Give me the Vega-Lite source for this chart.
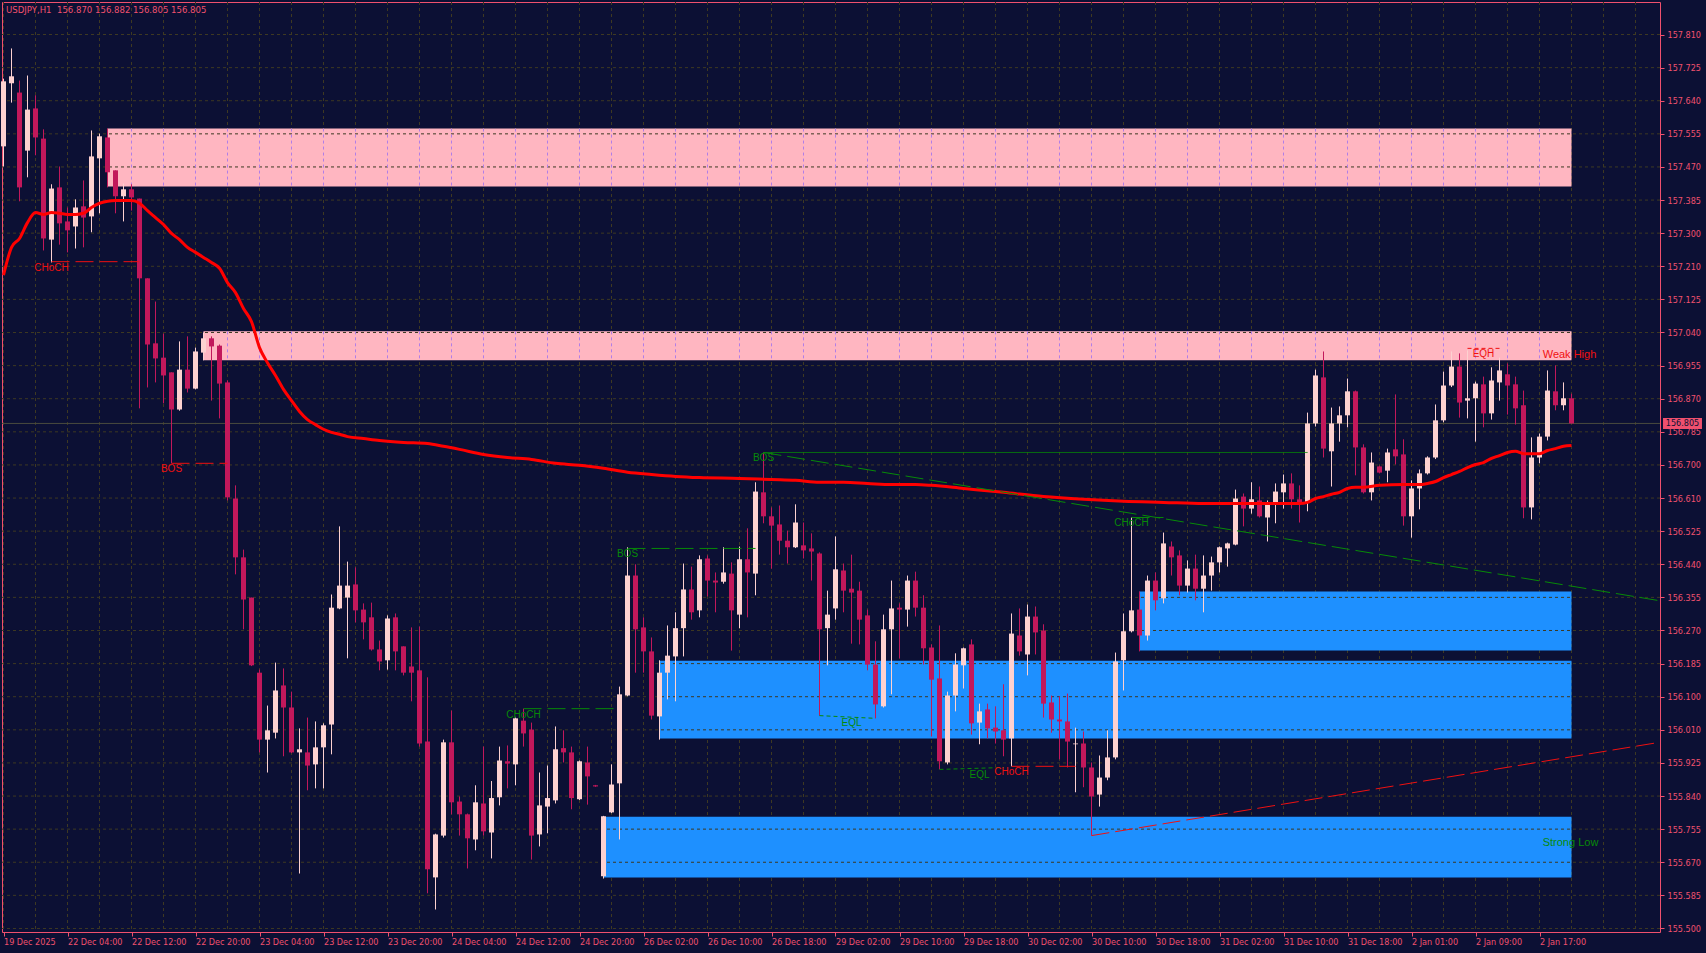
{
"$schema": "https://vega.github.io/schema/vega-lite/v6.json",
"width": 1658, "height": 930,
"autosize": {"type": "none"},
"padding": {"left": 2, "top": 2, "right": 46, "bottom": 21},
"background": "#0c1034",
"config": {"view": {"stroke": "#f0506e", "strokeWidth": 1, "fill": "#0c1034"}, "scale": {"continuousPadding": 0}},
"title": {"text": "USDJPY,H1\u00a0\u00a0156.870 156.882 156.805 156.805", "anchor": "start", "frame": "group", "orient": "top", "offset": -13, "dx": 4, "font": "Liberation Sans Narrow, DejaVu Sans Condensed, Liberation Sans", "fontSize": 9.5, "fontWeight": "normal", "color": "#f0506e"},
"resolve": {"scale": {"color": "independent", "strokeDash": "independent"}, "axis": {"x": "independent", "y": "independent"}},
"datasets": {
"gx": [{"i":0},{"i":4},{"i":8},{"i":12},{"i":16},{"i":20},{"i":24},{"i":28},{"i":32},{"i":36},{"i":40},{"i":44},{"i":48},{"i":52},{"i":56},{"i":60},{"i":64},{"i":68},{"i":72},{"i":76},{"i":80},{"i":84},{"i":88},{"i":92},{"i":96},{"i":100},{"i":104},{"i":108},{"i":112},{"i":116},{"i":120},{"i":124},{"i":128},{"i":132},{"i":136},{"i":140},{"i":144},{"i":148},{"i":152},{"i":156},{"i":160},{"i":164},{"i":168},{"i":172},{"i":176},{"i":180},{"i":184},{"i":188},{"i":192},{"i":196},{"i":200},{"i":204}],
"gy": [{"v":157.8100},{"v":157.7244},{"v":157.6389},{"v":157.5533},{"v":157.4678},{"v":157.3822},{"v":157.2967},{"v":157.2111},{"v":157.1256},{"v":157.0400},{"v":156.9544},{"v":156.8689},{"v":156.7833},{"v":156.6978},{"v":156.6122},{"v":156.5267},{"v":156.4411},{"v":156.3556},{"v":156.2700},{"v":156.1844},{"v":156.0989},{"v":156.0133},{"v":155.9278},{"v":155.8422},{"v":155.7567},{"v":155.6711},{"v":155.5856},{"v":155.5000}],
"zones": [
{"x1":13,"x2":196,"top":157.567,"bot":157.417,"zone":"supply"},
{"x1":25,"x2":196,"top":157.043,"bot":156.968,"zone":"supply"},
{"x1":142,"x2":196,"top":156.371,"bot":156.218,"zone":"demand"},
{"x1":82,"x2":196,"top":156.192,"bot":155.991,"zone":"demand"},
{"x1":75,"x2":196,"top":155.789,"bot":155.632,"zone":"demand"}],
"last": [{"p":156.805,"t":"156.805"}],
"lines": [
{"x1":6,"x2":17,"p1":157.223,"p2":157.223,"kind":"bear","style":"dash"},
{"x1":21,"x2":28,"p1":156.702,"p2":156.702,"kind":"bear","style":"dash"},
{"x1":65,"x2":77,"p1":156.068,"p2":156.068,"kind":"bull","style":"dash"},
{"x1":78,"x2":94,"p1":156.482,"p2":156.482,"kind":"bull","style":"dash"},
{"x1":95,"x2":163,"p1":156.730,"p2":156.730,"kind":"bull","style":"solid"},
{"x1":102,"x2":109,"p1":156.050,"p2":156.043,"kind":"bull","style":"dot"},
{"x1":117,"x2":125,"p1":155.911,"p2":155.916,"kind":"bull","style":"dot"},
{"x1":126,"x2":134,"p1":155.919,"p2":155.919,"kind":"bear","style":"dash"},
{"x1":141,"x2":145,"p1":156.562,"p2":156.562,"kind":"bull","style":"dash"},
{"x1":183,"x2":187,"p1":156.999,"p2":156.999,"kind":"bear","style":"dot"},
{"x1":95,"x2":207,"p1":156.730,"p2":156.347,"kind":"bull","style":"dash"},
{"x1":136,"x2":207,"p1":155.740,"p2":155.981,"kind":"bear","style":"dash"}],
"labels": [
{"i":6,"p":157.223,"t":"CHoCH","kind":"bear"},
{"i":21,"p":156.702,"t":"BOS","kind":"bear"},
{"i":65,"p":156.068,"t":"CHoCH","kind":"bull"},
{"i":78,"p":156.482,"t":"BOS","kind":"bull"},
{"i":95,"p":156.730,"t":"BOS","kind":"bull"},
{"i":106,"p":156.046,"t":"EQL","kind":"bull"},
{"i":122,"p":155.913,"t":"EQL","kind":"bull"},
{"i":126,"p":155.919,"t":"CHoCH","kind":"bear"},
{"i":141,"p":156.562,"t":"CHoCH","kind":"bull"},
{"i":185,"p":156.999,"t":"EQH","kind":"bear"}],
"tags": [
{"i":192.4,"p":156.981,"t":"Weak High","kind":"bear"},
{"i":192.4,"p":155.720,"t":"Strong Low","kind":"bull"}],
"ma": [{"i":0,"v":157.188},{"i":1,"v":157.260},{"i":2,"v":157.283},{"i":3,"v":157.324},{"i":4,"v":157.350},{"i":5,"v":157.345},{"i":6,"v":157.350},{"i":7,"v":157.348},{"i":8,"v":157.345},{"i":9,"v":157.345},{"i":10,"v":157.348},{"i":11,"v":157.363},{"i":12,"v":157.374},{"i":13,"v":157.379},{"i":14,"v":157.381},{"i":15,"v":157.381},{"i":16,"v":157.381},{"i":17,"v":157.374},{"i":18,"v":157.355},{"i":19,"v":157.337},{"i":20,"v":157.319},{"i":21,"v":157.296},{"i":22,"v":157.280},{"i":23,"v":157.260},{"i":24,"v":157.247},{"i":25,"v":157.234},{"i":26,"v":157.221},{"i":27,"v":157.206},{"i":28,"v":157.169},{"i":29,"v":157.143},{"i":30,"v":157.102},{"i":31,"v":157.068},{"i":32,"v":157.001},{"i":33,"v":156.962},{"i":34,"v":156.929},{"i":35,"v":156.893},{"i":36,"v":156.864},{"i":37,"v":156.836},{"i":38,"v":156.815},{"i":39,"v":156.802},{"i":40,"v":156.790},{"i":41,"v":156.782},{"i":42,"v":156.777},{"i":43,"v":156.771},{"i":45,"v":156.766},{"i":47,"v":156.761},{"i":50,"v":156.756},{"i":53,"v":156.753},{"i":55,"v":156.746},{"i":57,"v":156.738},{"i":60,"v":156.725},{"i":63,"v":156.717},{"i":66,"v":156.712},{"i":69,"v":156.702},{"i":72,"v":156.697},{"i":75,"v":156.689},{"i":78,"v":156.679},{"i":81,"v":156.673},{"i":84,"v":156.668},{"i":87,"v":156.665},{"i":92,"v":156.663},{"i":96,"v":156.660},{"i":99,"v":156.658},{"i":102,"v":156.653},{"i":105,"v":156.653},{"i":108,"v":156.650},{"i":111,"v":156.647},{"i":114,"v":156.647},{"i":116,"v":156.645},{"i":120,"v":156.637},{"i":125,"v":156.627},{"i":130,"v":156.616},{"i":135,"v":156.609},{"i":140,"v":156.604},{"i":145,"v":156.601},{"i":150,"v":156.598},{"i":155,"v":156.598},{"i":160,"v":156.598},{"i":162,"v":156.598},{"i":163,"v":156.601},{"i":164,"v":156.611},{"i":165,"v":156.616},{"i":166,"v":156.622},{"i":167,"v":156.627},{"i":168,"v":156.637},{"i":169,"v":156.640},{"i":170,"v":156.640},{"i":172,"v":156.645},{"i":175,"v":156.647},{"i":177,"v":156.647},{"i":178,"v":156.650},{"i":179,"v":156.655},{"i":180,"v":156.665},{"i":181,"v":156.673},{"i":182,"v":156.681},{"i":183,"v":156.691},{"i":184,"v":156.699},{"i":185,"v":156.704},{"i":186,"v":156.715},{"i":187,"v":156.722},{"i":188,"v":156.730},{"i":189,"v":156.733},{"i":190,"v":156.727},{"i":191,"v":156.727},{"i":192,"v":156.727},{"i":193,"v":156.735},{"i":194,"v":156.740},{"i":195,"v":156.746},{"i":196,"v":156.748}],
"candles": [
{"i":0,"o":157.521,"h":157.696,"l":157.469,"c":157.689},
{"i":1,"o":157.684,"h":157.774,"l":157.634,"c":157.702},
{"i":2,"o":157.660,"h":157.691,"l":157.379,"c":157.415},
{"i":3,"o":157.510,"h":157.704,"l":157.441,"c":157.616},
{"i":4,"o":157.619,"h":157.653,"l":157.498,"c":157.544},
{"i":5,"o":157.541,"h":157.565,"l":157.252,"c":157.283},
{"i":6,"o":157.280,"h":157.423,"l":157.221,"c":157.412},
{"i":7,"o":157.415,"h":157.469,"l":157.267,"c":157.322},
{"i":8,"o":157.327,"h":157.363,"l":157.247,"c":157.304},
{"i":9,"o":157.314,"h":157.384,"l":157.257,"c":157.363},
{"i":10,"o":157.366,"h":157.433,"l":157.260,"c":157.337},
{"i":11,"o":157.340,"h":157.562,"l":157.299,"c":157.495},
{"i":12,"o":157.490,"h":157.554,"l":157.348,"c":157.547},
{"i":13,"o":157.544,"h":157.567,"l":157.415,"c":157.454},
{"i":14,"o":157.459,"h":157.459,"l":157.348,"c":157.392},
{"i":15,"o":157.392,"h":157.425,"l":157.327,"c":157.410},
{"i":16,"o":157.410,"h":157.423,"l":157.355,"c":157.389},
{"i":17,"o":157.386,"h":157.386,"l":156.844,"c":157.180},
{"i":18,"o":157.180,"h":157.180,"l":156.898,"c":157.009},
{"i":19,"o":157.012,"h":157.120,"l":156.911,"c":156.973},
{"i":20,"o":156.975,"h":157.037,"l":156.857,"c":156.929},
{"i":21,"o":156.937,"h":156.937,"l":156.702,"c":156.841},
{"i":22,"o":156.841,"h":157.017,"l":156.838,"c":156.944},
{"i":23,"o":156.944,"h":157.030,"l":156.885,"c":156.895},
{"i":24,"o":156.895,"h":157.001,"l":156.893,"c":156.991},
{"i":25,"o":156.988,"h":157.040,"l":156.968,"c":157.025},
{"i":26,"o":157.025,"h":157.030,"l":156.864,"c":157.004},
{"i":27,"o":157.006,"h":157.009,"l":156.818,"c":156.908},
{"i":28,"o":156.911,"h":156.916,"l":156.606,"c":156.614},
{"i":29,"o":156.611,"h":156.645,"l":156.415,"c":156.459},
{"i":30,"o":156.459,"h":156.479,"l":156.273,"c":156.350},
{"i":31,"o":156.355,"h":156.355,"l":156.178,"c":156.180},
{"i":32,"o":156.161,"h":156.169,"l":155.955,"c":155.988},
{"i":33,"o":155.988,"h":156.076,"l":155.903,"c":156.012},
{"i":34,"o":156.006,"h":156.187,"l":155.991,"c":156.115},
{"i":35,"o":156.128,"h":156.172,"l":155.945,"c":156.071},
{"i":36,"o":156.071,"h":156.112,"l":155.953,"c":155.955},
{"i":37,"o":155.955,"h":156.017,"l":155.642,"c":155.963},
{"i":38,"o":155.955,"h":156.045,"l":155.857,"c":155.921},
{"i":39,"o":155.924,"h":156.035,"l":155.862,"c":155.968},
{"i":40,"o":155.968,"h":156.030,"l":155.862,"c":156.025},
{"i":41,"o":156.027,"h":156.363,"l":155.950,"c":156.329},
{"i":42,"o":156.327,"h":156.539,"l":156.325,"c":156.386},
{"i":43,"o":156.355,"h":156.448,"l":156.198,"c":156.386},
{"i":44,"o":156.389,"h":156.433,"l":156.291,"c":156.322},
{"i":45,"o":156.324,"h":156.340,"l":156.247,"c":156.291},
{"i":46,"o":156.304,"h":156.342,"l":156.218,"c":156.221},
{"i":47,"o":156.221,"h":156.244,"l":156.167,"c":156.190},
{"i":48,"o":156.193,"h":156.309,"l":156.169,"c":156.301},
{"i":49,"o":156.304,"h":156.314,"l":156.167,"c":156.216},
{"i":50,"o":156.229,"h":156.229,"l":156.154,"c":156.161},
{"i":51,"o":156.177,"h":156.278,"l":156.087,"c":156.161},
{"i":52,"o":156.167,"h":156.280,"l":155.970,"c":155.978},
{"i":53,"o":155.983,"h":156.149,"l":155.591,"c":155.653},
{"i":54,"o":155.632,"h":155.745,"l":155.549,"c":155.743},
{"i":55,"o":155.740,"h":155.988,"l":155.735,"c":155.981},
{"i":56,"o":155.981,"h":156.063,"l":155.795,"c":155.826},
{"i":57,"o":155.828,"h":155.841,"l":155.740,"c":155.795},
{"i":58,"o":155.795,"h":155.797,"l":155.655,"c":155.733},
{"i":59,"o":155.730,"h":155.870,"l":155.702,"c":155.826},
{"i":60,"o":155.823,"h":155.970,"l":155.740,"c":155.751},
{"i":61,"o":155.748,"h":155.881,"l":155.681,"c":155.837},
{"i":62,"o":155.839,"h":155.970,"l":155.818,"c":155.934},
{"i":63,"o":155.932,"h":155.973,"l":155.862,"c":155.926},
{"i":64,"o":155.924,"h":156.045,"l":155.870,"c":156.043},
{"i":65,"o":156.037,"h":156.068,"l":155.970,"c":156.004},
{"i":66,"o":156.014,"h":156.032,"l":155.678,"c":155.740},
{"i":67,"o":155.743,"h":155.903,"l":155.712,"c":155.818},
{"i":68,"o":155.815,"h":155.921,"l":155.746,"c":155.837},
{"i":69,"o":155.831,"h":156.022,"l":155.823,"c":155.963},
{"i":70,"o":155.966,"h":156.012,"l":155.929,"c":155.955},
{"i":71,"o":155.955,"h":155.970,"l":155.808,"c":155.837},
{"i":72,"o":155.834,"h":155.934,"l":155.832,"c":155.932},
{"i":73,"o":155.929,"h":155.970,"l":155.820,"c":155.893},
{"i":74,"o":155.870,"h":155.871,"l":155.866,"c":155.867},
{"i":75,"o":155.635,"h":155.791,"l":155.629,"c":155.790},
{"i":76,"o":155.800,"h":155.924,"l":155.798,"c":155.872},
{"i":77,"o":155.875,"h":156.125,"l":155.730,"c":156.105},
{"i":78,"o":156.102,"h":156.485,"l":156.100,"c":156.412},
{"i":79,"o":156.412,"h":156.441,"l":156.161,"c":156.273},
{"i":80,"o":156.278,"h":156.304,"l":156.161,"c":156.216},
{"i":81,"o":156.216,"h":156.252,"l":156.040,"c":156.050},
{"i":82,"o":156.048,"h":156.193,"l":155.988,"c":156.161},
{"i":83,"o":156.161,"h":156.283,"l":156.092,"c":156.205},
{"i":84,"o":156.203,"h":156.317,"l":156.087,"c":156.276},
{"i":85,"o":156.276,"h":156.443,"l":156.203,"c":156.376},
{"i":86,"o":156.376,"h":156.435,"l":156.298,"c":156.317},
{"i":87,"o":156.322,"h":156.464,"l":156.304,"c":156.454},
{"i":88,"o":156.456,"h":156.464,"l":156.358,"c":156.399},
{"i":89,"o":156.399,"h":156.420,"l":156.317,"c":156.394},
{"i":90,"o":156.396,"h":156.485,"l":156.391,"c":156.420},
{"i":91,"o":156.417,"h":156.446,"l":156.218,"c":156.322},
{"i":92,"o":156.311,"h":156.487,"l":156.276,"c":156.454},
{"i":93,"o":156.454,"h":156.534,"l":156.304,"c":156.420},
{"i":94,"o":156.417,"h":156.653,"l":156.361,"c":156.629},
{"i":95,"o":156.627,"h":156.730,"l":156.547,"c":156.565},
{"i":96,"o":156.565,"h":156.588,"l":156.430,"c":156.541},
{"i":97,"o":156.544,"h":156.593,"l":156.466,"c":156.502},
{"i":98,"o":156.502,"h":156.528,"l":156.443,"c":156.485},
{"i":99,"o":156.485,"h":156.596,"l":156.483,"c":156.549},
{"i":100,"o":156.490,"h":156.549,"l":156.456,"c":156.477},
{"i":101,"o":156.482,"h":156.521,"l":156.399,"c":156.474},
{"i":102,"o":156.469,"h":156.472,"l":156.050,"c":156.273},
{"i":103,"o":156.276,"h":156.373,"l":156.180,"c":156.311},
{"i":104,"o":156.327,"h":156.513,"l":156.298,"c":156.428},
{"i":105,"o":156.425,"h":156.443,"l":156.317,"c":156.373},
{"i":106,"o":156.378,"h":156.466,"l":156.236,"c":156.368},
{"i":107,"o":156.373,"h":156.396,"l":156.234,"c":156.298},
{"i":108,"o":156.309,"h":156.324,"l":156.167,"c":156.182},
{"i":109,"o":156.182,"h":156.242,"l":156.043,"c":156.079},
{"i":110,"o":156.074,"h":156.311,"l":156.071,"c":156.273},
{"i":111,"o":156.273,"h":156.399,"l":156.105,"c":156.327},
{"i":112,"o":156.329,"h":156.340,"l":156.198,"c":156.324},
{"i":113,"o":156.324,"h":156.412,"l":156.280,"c":156.399},
{"i":114,"o":156.399,"h":156.422,"l":156.306,"c":156.329},
{"i":115,"o":156.329,"h":156.361,"l":156.182,"c":156.224},
{"i":116,"o":156.226,"h":156.234,"l":155.996,"c":156.143},
{"i":117,"o":156.146,"h":156.283,"l":155.911,"c":155.932},
{"i":118,"o":155.929,"h":156.112,"l":155.924,"c":156.102},
{"i":119,"o":156.102,"h":156.211,"l":156.061,"c":156.182},
{"i":120,"o":156.180,"h":156.226,"l":156.120,"c":156.224},
{"i":121,"o":156.234,"h":156.247,"l":156.001,"c":156.030},
{"i":122,"o":156.032,"h":156.081,"l":155.976,"c":156.061},
{"i":123,"o":156.066,"h":156.081,"l":155.991,"c":156.017},
{"i":124,"o":156.019,"h":156.074,"l":155.978,"c":156.009},
{"i":125,"o":156.012,"h":156.131,"l":155.945,"c":155.988},
{"i":126,"o":155.991,"h":156.314,"l":155.919,"c":156.262},
{"i":127,"o":156.257,"h":156.327,"l":156.205,"c":156.216},
{"i":128,"o":156.208,"h":156.337,"l":156.154,"c":156.306},
{"i":129,"o":156.306,"h":156.332,"l":156.208,"c":156.265},
{"i":130,"o":156.270,"h":156.286,"l":156.045,"c":156.081},
{"i":131,"o":156.084,"h":156.102,"l":156.006,"c":156.040},
{"i":132,"o":156.040,"h":156.100,"l":155.937,"c":156.035},
{"i":133,"o":156.035,"h":156.107,"l":155.916,"c":155.983},
{"i":134,"o":155.976,"h":156.019,"l":155.852,"c":155.978},
{"i":135,"o":155.978,"h":156.009,"l":155.865,"c":155.916},
{"i":136,"o":155.916,"h":155.929,"l":155.740,"c":155.841},
{"i":137,"o":155.846,"h":155.947,"l":155.815,"c":155.890},
{"i":138,"o":155.890,"h":156.012,"l":155.883,"c":155.942},
{"i":139,"o":155.942,"h":156.213,"l":155.937,"c":156.190},
{"i":140,"o":156.193,"h":156.314,"l":156.115,"c":156.268},
{"i":141,"o":156.268,"h":156.562,"l":156.265,"c":156.322},
{"i":142,"o":156.324,"h":156.371,"l":156.216,"c":156.257},
{"i":143,"o":156.257,"h":156.412,"l":156.244,"c":156.399},
{"i":144,"o":156.399,"h":156.420,"l":156.322,"c":156.348},
{"i":145,"o":156.353,"h":156.523,"l":156.340,"c":156.495},
{"i":146,"o":156.487,"h":156.500,"l":156.412,"c":156.459},
{"i":147,"o":156.464,"h":156.477,"l":156.361,"c":156.386},
{"i":148,"o":156.386,"h":156.451,"l":156.368,"c":156.430},
{"i":149,"o":156.430,"h":156.466,"l":156.348,"c":156.378},
{"i":150,"o":156.378,"h":156.464,"l":156.317,"c":156.412},
{"i":151,"o":156.412,"h":156.461,"l":156.373,"c":156.446},
{"i":152,"o":156.446,"h":156.487,"l":156.420,"c":156.485},
{"i":153,"o":156.482,"h":156.497,"l":156.435,"c":156.495},
{"i":154,"o":156.492,"h":156.634,"l":156.490,"c":156.611},
{"i":155,"o":156.616,"h":156.624,"l":156.539,"c":156.585},
{"i":156,"o":156.585,"h":156.653,"l":156.572,"c":156.609},
{"i":157,"o":156.606,"h":156.642,"l":156.562,"c":156.565},
{"i":158,"o":156.562,"h":156.606,"l":156.500,"c":156.598},
{"i":159,"o":156.596,"h":156.650,"l":156.547,"c":156.629},
{"i":160,"o":156.627,"h":156.673,"l":156.585,"c":156.650},
{"i":161,"o":156.650,"h":156.676,"l":156.585,"c":156.609},
{"i":162,"o":156.609,"h":156.645,"l":156.549,"c":156.601},
{"i":163,"o":156.601,"h":156.833,"l":156.578,"c":156.805},
{"i":164,"o":156.805,"h":156.944,"l":156.797,"c":156.929},
{"i":165,"o":156.924,"h":156.991,"l":156.717,"c":156.740},
{"i":166,"o":156.733,"h":156.846,"l":156.642,"c":156.805},
{"i":167,"o":156.805,"h":156.849,"l":156.758,"c":156.826},
{"i":168,"o":156.826,"h":156.921,"l":156.795,"c":156.888},
{"i":169,"o":156.888,"h":156.890,"l":156.671,"c":156.743},
{"i":170,"o":156.743,"h":156.751,"l":156.624,"c":156.627},
{"i":171,"o":156.627,"h":156.730,"l":156.606,"c":156.704},
{"i":172,"o":156.694,"h":156.696,"l":156.676,"c":156.678},
{"i":173,"o":156.683,"h":156.740,"l":156.653,"c":156.730},
{"i":174,"o":156.738,"h":156.880,"l":156.699,"c":156.720},
{"i":175,"o":156.725,"h":156.764,"l":156.541,"c":156.565},
{"i":176,"o":156.565,"h":156.658,"l":156.510,"c":156.637},
{"i":177,"o":156.637,"h":156.686,"l":156.583,"c":156.676},
{"i":178,"o":156.676,"h":156.720,"l":156.673,"c":156.717},
{"i":179,"o":156.717,"h":156.854,"l":156.713,"c":156.813},
{"i":180,"o":156.813,"h":156.939,"l":156.808,"c":156.903},
{"i":181,"o":156.903,"h":156.991,"l":156.899,"c":156.952},
{"i":182,"o":156.952,"h":156.986,"l":156.820,"c":156.859},
{"i":183,"o":156.864,"h":156.994,"l":156.818,"c":156.870},
{"i":184,"o":156.870,"h":156.913,"l":156.758,"c":156.908},
{"i":185,"o":156.906,"h":156.926,"l":156.795,"c":156.831},
{"i":186,"o":156.831,"h":156.950,"l":156.815,"c":156.916},
{"i":187,"o":156.911,"h":156.975,"l":156.864,"c":156.942},
{"i":188,"o":156.932,"h":156.960,"l":156.828,"c":156.903},
{"i":189,"o":156.906,"h":156.926,"l":156.802,"c":156.844},
{"i":190,"o":156.852,"h":156.890,"l":156.560,"c":156.588},
{"i":191,"o":156.588,"h":156.769,"l":156.557,"c":156.717},
{"i":192,"o":156.717,"h":156.779,"l":156.702,"c":156.771},
{"i":193,"o":156.771,"h":156.942,"l":156.761,"c":156.890},
{"i":194,"o":156.888,"h":156.955,"l":156.839,"c":156.852},
{"i":195,"o":156.852,"h":156.911,"l":156.839,"c":156.870},
{"i":196,"o":156.870,"h":156.882,"l":156.805,"c":156.805}]
},
"layer": [
{"data": {"name": "gx"},
 "mark": {"type": "rule", "color": "#3e3922", "strokeDash": [3, 3], "strokeWidth": 1},
 "encoding": {"x": {"field": "i", "type": "quantitative", "scale": {"domain": [-0.1875, 207.0625], "nice": false, "zero": false, "padding": 0}, "axis": null}}},
{"data": {"name": "zones"},
 "mark": {"type": "rect"},
 "encoding": {
  "x": {"field": "x1", "type": "quantitative", "scale": {"domain": [-0.1875, 207.0625], "nice": false, "zero": false, "padding": 0}, "axis": null},
  "x2": {"field": "x2"},
  "y": {"field": "top", "type": "quantitative", "scale": {"domain": [155.4909, 157.894], "nice": false, "zero": false, "padding": 0}, "axis": null},
  "y2": {"field": "bot"},
  "color": {"field": "zone", "type": "nominal", "scale": {"domain": ["supply", "demand"], "range": ["#ffb6c1", "#1e90ff"]}, "legend": null}}},
{"data": {"name": "gy"},
 "mark": {"type": "rule", "color": "#3e3922", "strokeDash": [3, 3], "strokeWidth": 1},
 "encoding": {"y": {"field": "v", "type": "quantitative", "scale": {"domain": [155.4909, 157.894], "nice": false, "zero": false, "padding": 0}, "axis": null}}},
{"data": {"name": "gx"},
 "transform": [{"filter": "datum.i > 13 && datum.i < 196"}],
 "mark": {"type": "rule", "color": "#b07ee8", "strokeDash": [3, 3], "strokeWidth": 1},
 "encoding": {
  "x": {"field": "i", "type": "quantitative", "scale": {"domain": [-0.1875, 207.0625], "nice": false, "zero": false, "padding": 0}, "axis": null},
  "y": {"datum": 157.567, "type": "quantitative", "scale": {"domain": [155.4909, 157.894], "nice": false, "zero": false, "padding": 0}, "axis": null},
  "y2": {"datum": 157.417}}},
{"data": {"name": "gx"},
 "transform": [{"filter": "datum.i > 25 && datum.i < 196"}],
 "mark": {"type": "rule", "color": "#b07ee8", "strokeDash": [3, 3], "strokeWidth": 1},
 "encoding": {
  "x": {"field": "i", "type": "quantitative", "scale": {"domain": [-0.1875, 207.0625], "nice": false, "zero": false, "padding": 0}, "axis": null},
  "y": {"datum": 157.043, "type": "quantitative", "scale": {"domain": [155.4909, 157.894], "nice": false, "zero": false, "padding": 0}, "axis": null},
  "y2": {"datum": 156.968}}},
{"data": {"name": "last"},
 "mark": {"type": "rule", "color": "#4a4a3e", "strokeWidth": 1},
 "encoding": {"y": {"field": "p", "type": "quantitative", "scale": {"domain": [155.4909, 157.894], "nice": false, "zero": false, "padding": 0}, "axis": null}}},
{"data": {"name": "candles"},
 "mark": {"type": "rule", "strokeWidth": 1},
 "encoding": {
  "x": {"field": "i", "type": "quantitative", "scale": {"domain": [-0.1875, 207.0625], "nice": false, "zero": false, "padding": 0},
   "axis": {"values": [0,8,16,24,32,40,48,56,64,72,80,88,96,104,112,120,128,136,144,152,160,168,176,184,192],
    "labelExpr": "['19 Dec 2025','22 Dec 04:00','22 Dec 12:00','22 Dec 20:00','23 Dec 04:00','23 Dec 12:00','23 Dec 20:00','24 Dec 04:00','24 Dec 12:00','24 Dec 20:00','26 Dec 02:00','26 Dec 10:00','26 Dec 18:00','29 Dec 02:00','29 Dec 10:00','29 Dec 18:00','30 Dec 02:00','30 Dec 10:00','30 Dec 18:00','31 Dec 02:00','31 Dec 10:00','31 Dec 18:00','2 Jan 01:00','2 Jan 09:00','2 Jan 17:00'][round(datum.value/8)]",
    "labelAlign": "left", "labelBaseline": "top", "labelPadding": 1, "labelDx": -1, "tickSize": 4, "tickColor": "#f0506e", "labelColor": "#f0506e",
    "labelFont": "Liberation Sans Narrow, DejaVu Sans Condensed, Liberation Sans", "labelFontSize": 9, "domain": false, "grid": false, "title": null,
    "labelOverlap": false, "labelFlush": false, "labelBound": false}},
  "y": {"field": "l", "type": "quantitative", "scale": {"domain": [155.4909, 157.894], "nice": false, "zero": false, "padding": 0},
   "axis": {"orient": "right", "values": [157.8100,157.7244,157.6389,157.5533,157.4678,157.3822,157.2967,157.2111,157.1256,157.0400,156.9544,156.8689,156.7833,156.6978,156.6122,156.5267,156.4411,156.3556,156.2700,156.1844,156.0989,156.0133,155.9278,155.8422,155.7567,155.6711,155.5856,155.5000],
    "labelExpr": "['157.810','157.725','157.640','157.555','157.470','157.385','157.300','157.210','157.125','157.040','156.955','156.870','156.785','156.700','156.610','156.525','156.440','156.355','156.270','156.185','156.100','156.010','155.925','155.840','155.755','155.670','155.585','155.500'][round((157.81 - datum.value) / 0.0855556)]",
    "labelAlign": "left", "labelBaseline": "middle", "labelPadding": 3, "tickSize": 4, "tickColor": "#f0506e", "labelColor": "#f0506e",
    "labelFont": "Liberation Sans Narrow, DejaVu Sans Condensed, Liberation Sans", "labelFontSize": 9, "domain": false, "grid": false, "title": null,
    "labelOverlap": false, "labelFlush": false, "labelBound": false}},
  "y2": {"field": "h"},
  "color": {"condition": {"test": "datum.c >= datum.o", "value": "#fdd1d0"}, "value": "#c2185b"}}},
{"data": {"name": "candles"},
 "mark": {"type": "bar", "size": 5},
 "encoding": {
  "x": {"field": "i", "type": "quantitative", "scale": {"domain": [-0.1875, 207.0625], "nice": false, "zero": false, "padding": 0}, "axis": null},
  "y": {"field": "o", "type": "quantitative", "scale": {"domain": [155.4909, 157.894], "nice": false, "zero": false, "padding": 0}, "axis": null},
  "y2": {"field": "c"},
  "color": {"condition": {"test": "datum.c >= datum.o", "value": "#fdd1d0"}, "value": "#c2185b"}}},
{"data": {"name": "ma"},
 "mark": {"type": "line", "color": "#ff0000", "strokeWidth": 3, "interpolate": "monotone"},
 "encoding": {
  "x": {"field": "i", "type": "quantitative", "scale": {"domain": [-0.1875, 207.0625], "nice": false, "zero": false, "padding": 0}, "axis": null},
  "y": {"field": "v", "type": "quantitative", "scale": {"domain": [155.4909, 157.894], "nice": false, "zero": false, "padding": 0}, "axis": null}}},
{"data": {"name": "lines"},
 "mark": {"type": "rule", "strokeWidth": 1},
 "encoding": {
  "x": {"field": "x1", "type": "quantitative", "scale": {"domain": [-0.1875, 207.0625], "nice": false, "zero": false, "padding": 0}, "axis": null},
  "x2": {"field": "x2"},
  "y": {"field": "p1", "type": "quantitative", "scale": {"domain": [155.4909, 157.894], "nice": false, "zero": false, "padding": 0}, "axis": null},
  "y2": {"field": "p2"},
  "color": {"field": "kind", "type": "nominal", "scale": {"domain": ["bull", "bear"], "range": ["#078a07", "#f01010"]}, "legend": null},
  "strokeDash": {"field": "style", "type": "nominal", "scale": {"domain": ["dash", "dot", "solid"], "range": [[18, 6], [4, 3], [1, 0]]}, "legend": null}}},
{"data": {"name": "labels"},
 "mark": {"type": "text", "align": "center", "baseline": "middle", "dy": 6, "font": "Liberation Sans", "fontSize": 10},
 "encoding": {
  "x": {"field": "i", "type": "quantitative", "scale": {"domain": [-0.1875, 207.0625], "nice": false, "zero": false, "padding": 0}, "axis": null},
  "y": {"field": "p", "type": "quantitative", "scale": {"domain": [155.4909, 157.894], "nice": false, "zero": false, "padding": 0}, "axis": null},
  "text": {"field": "t"},
  "color": {"field": "kind", "type": "nominal", "scale": {"domain": ["bull", "bear"], "range": ["#078a07", "#f01010"]}, "legend": null}}},
{"data": {"name": "tags"},
 "mark": {"type": "text", "align": "left", "baseline": "middle", "font": "Liberation Sans", "fontSize": 11},
 "encoding": {
  "x": {"field": "i", "type": "quantitative", "scale": {"domain": [-0.1875, 207.0625], "nice": false, "zero": false, "padding": 0}, "axis": null},
  "y": {"field": "p", "type": "quantitative", "scale": {"domain": [155.4909, 157.894], "nice": false, "zero": false, "padding": 0}, "axis": null},
  "text": {"field": "t"},
  "color": {"field": "kind", "type": "nominal", "scale": {"domain": ["bull", "bear"], "range": ["#078a07", "#f01010"]}, "legend": null}}},
{"data": {"name": "last"},
 "mark": {"type": "bar", "size": 11, "color": "#f0506e", "orient": "horizontal"},
 "encoding": {
  "x": {"datum": 207.44, "type": "quantitative", "scale": {"domain": [-0.1875, 207.0625], "nice": false, "zero": false, "padding": 0}, "axis": null},
  "x2": {"datum": 212.31},
  "y": {"field": "p", "type": "quantitative", "scale": {"domain": [155.4909, 157.894], "nice": false, "zero": false, "padding": 0}, "axis": null}}},
{"data": {"name": "last"},
 "mark": {"type": "text", "align": "center", "baseline": "middle", "color": "#0c1034", "font": "Liberation Sans Narrow, DejaVu Sans Condensed, Liberation Sans", "fontSize": 9},
 "encoding": {
  "x": {"datum": 209.875, "type": "quantitative", "scale": {"domain": [-0.1875, 207.0625], "nice": false, "zero": false, "padding": 0}, "axis": null},
  "y": {"field": "p", "type": "quantitative", "scale": {"domain": [155.4909, 157.894], "nice": false, "zero": false, "padding": 0}, "axis": null},
  "text": {"field": "t"}}}
]
}
